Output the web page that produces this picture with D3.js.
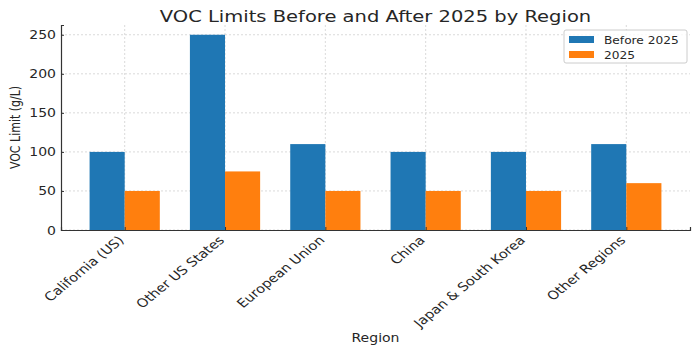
<!DOCTYPE html>
<html>
<head>
<meta charset="utf-8">
<script src="https://cdn.jsdelivr.net/npm/d3@7"></script>
<style>
    body { margin: 0; background: #fff; }
    text { font-family: "DejaVu Sans", sans-serif; fill: #262626; }
</style>
</head>
<body>
<div id="chart"></div>
<script>
// data
var regions = ["California (US)", "Other US States", "European Union", "China", "Japan & South Korea", "Other Regions"];
var before2025 = [100, 250, 110, 100, 100, 110];
var after2025 = [50, 75, 50, 50, 50, 60];
var seriesNames = ["Before 2025", "2025"];
var yTicks = [0, 50, 100, 150, 200, 250];

var colors = ["#1f77b4", "#ff7f0e"];

// gambar asli sedikit melebar secara horizontal
var sx = 1.22;

var W = 699, H = 352;
var margin = { top: 25, right: 9, bottom: 122, left: 61 };
var width = W - margin.left - margin.right;
var height = H - margin.top - margin.bottom;

var svg = d3.select("#chart").append("svg")
    .attr("width", W)
    .attr("height", H);

var g = svg.append("g")
    .attr("transform", "translate(" + margin.left + "," + margin.top + ")");

// skala: index kategori seperti matplotlib (margin 5%)
var barW = 0.35;
var x = d3.scaleLinear()
    .domain([-barW - 0.285, regions.length - 1 + barW + 0.285])
    .range([0, width]);
var y = d3.scaleLinear()
    .domain([0, 262.5])
    .range([height, 0]);

// grid
g.append("g")
    .selectAll("line")
    .data(yTicks)
    .enter().append("line")
    .attr("x1", 0).attr("x2", width)
    .attr("y1", function (d) { return y(d); })
    .attr("y2", function (d) { return y(d); })
    .attr("stroke", "#d0d0d0")
    .attr("stroke-width", 0.8)
    .attr("stroke-dasharray", "2,2");

g.append("g")
    .selectAll("line")
    .data(regions)
    .enter().append("line")
    .attr("x1", function (d, i) { return x(i); })
    .attr("x2", function (d, i) { return x(i); })
    .attr("y1", 0).attr("y2", height)
    .attr("stroke", "#d0d0d0")
    .attr("stroke-width", 0.8)
    .attr("stroke-dasharray", "2,2");

// batang
var series = [before2025, after2025];
series.forEach(function (vals, s) {
    g.append("g")
        .selectAll("rect")
        .data(vals)
        .enter().append("rect")
        .attr("x", function (d, i) { return x(i + (s === 0 ? -barW : 0)); })
        .attr("width", x(barW) - x(0))
        .attr("y", function (d) { return y(d); })
        .attr("height", function (d) { return height - y(d); })
        .attr("fill", colors[s]);
});

// sumbu
var yAxis = g.append("g")
    .call(d3.axisLeft(y).tickValues(yTicks).tickSize(-3).tickFormat(""));
var xAxis = g.append("g")
    .attr("transform", "translate(0," + height + ")")
    .call(d3.axisBottom(x).tickValues(d3.range(regions.length)).tickSize(-3).tickFormat(""));

[xAxis, yAxis].forEach(function (a) {
    a.select(".domain").attr("stroke", "#333").attr("stroke-width", 1.2);
    a.selectAll(".tick line").attr("stroke", "#333");
});

// label sumbu y (ditulis manual supaya bisa diskalakan)
yAxis.selectAll(".tick")
    .append("text")
    .attr("transform", "translate(-5,0) scale(" + sx + ",1)")
    .attr("text-anchor", "end")
    .attr("dy", "0.35em")
    .style("font-size", "11.5px")
    .text(function (d) { return d; });

// label sumbu x, diputar
xAxis.selectAll(".tick")
    .append("text")
    .attr("transform", "translate(-4,8) scale(" + sx + ",1) rotate(-45)")
    .attr("text-anchor", "end")
    .attr("dy", "0.35em")
    .style("font-size", "12px")
    .text(function (i) { return regions[i]; });

// judul dan label
function sText(x0, y0, size, str, rot) {
    return svg.append("text")
        .attr("transform", "translate(" + x0 + "," + y0 + ") scale(" + sx + ",1)" + (rot ? " rotate(" + rot + ")" : ""))
        .attr("text-anchor", "middle")
        .style("font-size", size)
        .text(str);
}
sText(margin.left + width / 2, 22, "16px", "VOC Limits Before and After 2025 by Region");
sText(margin.left + width / 2, 342, "11.5px", "Region");
sText(20, margin.top + height / 2, "11px", "VOC Limit (g/L)", -90);

// legenda
var lg = svg.append("g").attr("transform", "translate(564,30)");
lg.append("rect")
    .attr("width", 123).attr("height", 33)
    .attr("rx", 2)
    .attr("fill", "#fff").attr("fill-opacity", 0.8)
    .attr("stroke", "#ccc");
seriesNames.forEach(function (n, i) {
    lg.append("rect")
        .attr("x", 5).attr("y", 6 + i * 15)
        .attr("width", 25).attr("height", 7)
        .attr("fill", colors[i]);
    lg.append("text")
        .attr("transform", "translate(40," + (13.5 + i * 15) + ") scale(" + sx + ",1)")
        .style("font-size", "10px")
        .text(n);
});
</script>
</body>
</html>
